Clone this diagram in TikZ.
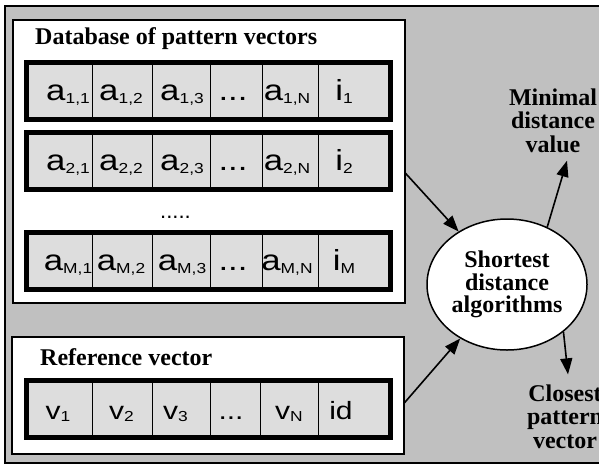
\documentclass[tikz,border=0pt]{standalone}
\usepackage{graphicx}
\usepackage{fontspec}
\setmainfont{Liberation Serif}
\newfontfamily\arialfont{Liberation Sans}
\usetikzlibrary{shapes,arrows.meta}

\definecolor{framegray}{RGB}{192,192,192}
\definecolor{cellgray}{RGB}{221,221,221}

% small lowered index for the vector entries
\newcommand\sbs[1]{\raisebox{-2.5pt}{\fontsize{14.5}{14.5}\selectfont #1}}
% entries are set a little wide
\newcommand\entry[1]{\scalebox{1.2}[1]{#1}}

\tikzset{
  panel/.style={draw, line width=1.5pt, fill=white, anchor=north west, inner sep=0pt, minimum width=392pt},
  title/.style={font=\bfseries\fontsize{24}{24}\selectfont, anchor=base west, inner sep=0pt},
  rowbox/.style={draw, line width=5pt, fill=cellgray, minimum width=364.5pt, minimum height=57pt, inner sep=0pt},
  cellline/.style={line width=1pt},
  celltxt/.style={font=\arialfont\fontsize{29}{29}\selectfont, anchor=base, inner sep=0pt},
  reftxt/.style={celltxt, font=\arialfont\fontsize{25}{25}\selectfont},
  outlabel/.style={font=\bfseries\fontsize{24}{23.5}\selectfont, align=center, inner sep=0pt},
  flow/.style={-{Triangle[length=16pt,width=12pt]}, line width=1.6pt},
}

\begin{document}
\begin{tikzpicture}[x=1pt,y=-1pt]
\useasboundingbox (0,0) rectangle (599,466);
\draw[line width=1.5pt, fill=framegray] (5,6) rectangle (612,463);

% pattern database
\node[panel, minimum height=283pt] (db) at (12,19) {};
\node[title] (dbtitle) at (35,44.7) {Database of pattern vectors};
\foreach \s/\y in {1/91, 2/161, M/261}{
  \node[rowbox] (row\s) at (208.25,\y) {};
  \foreach \x in {92,152,210,262,318}{\draw[cellline] (\x,\y-26) -- (\x,\y+26);}
  \node[celltxt] (a\s-1) at (68,\y+9.5) {\entry{a\sbs{\s,1}}};
  \node[celltxt] (a\s-2) at (121,\y+9.5) {\entry{a\sbs{\s,2}}};
  \node[celltxt] (a\s-3) at (182,\y+9.5) {\entry{a\sbs{\s,3}}};
  \node[celltxt] (dots\s) at (233,\y+9.5) {\entry{...}};
  \node[celltxt] (a\s-N) at (287,\y+9.5) {\entry{a\sbs{\s,N}}};
  \node[celltxt] (i\s) at (344,\y+9.5) {\entry{i\sbs{\s}}};
}
\node[celltxt, font=\arialfont\fontsize{22}{22}\selectfont] (gap) at (175.5,218) {.....};

% reference vector
\node[panel, minimum height=117pt] (ref) at (11,336) {};
\node[title] (reftitle) at (40,365) {Reference vector};
\node[rowbox] (rowv) at (208.25,408.5) {};
\foreach \x in {92,152,210,260,318}{\draw[cellline] (\x,382.5) -- (\x,434.5);}
\node[reftxt] (v1) at (58,419) {\entry{v\sbs{1}}};
\node[reftxt] (v2) at (121.5,419) {\entry{v\sbs{2}}};
\node[reftxt] (v3) at (175.5,419) {\entry{v\sbs{3}}};
\node[reftxt] (vdots) at (231,419) {\entry{...}};
\node[reftxt] (vN) at (289,419) {\entry{v\sbs{N}}};
\node[reftxt] (id) at (341,419) {\entry{id}};

% matching and results
\node[draw, ellipse, line width=1.5pt, fill=white, minimum width=160pt, minimum height=131pt,
      inner sep=0pt, align=center, font=\bfseries\fontsize{24}{22.5}\selectfont] (alg) at (507,284.5)
      {Shortest\\distance\\algorithms};
\node[outlabel] (minval) at (553,120.5) {Minimal\\distance\\value};
\node[outlabel] (closest) at (565,416.5) {Closest\\pattern\\vector};

\draw[flow] ([yshift=-12pt]db.east) -- (alg);
\draw[flow] ([yshift=-7.5pt]ref.east) -- (alg);
\draw[flow] (alg.55) -- ([xshift=14pt,yshift=-8pt]minval.south);
\draw[flow] (alg.-40) -- ([xshift=3pt,yshift=10pt]closest.north);
\end{tikzpicture}
\end{document}
